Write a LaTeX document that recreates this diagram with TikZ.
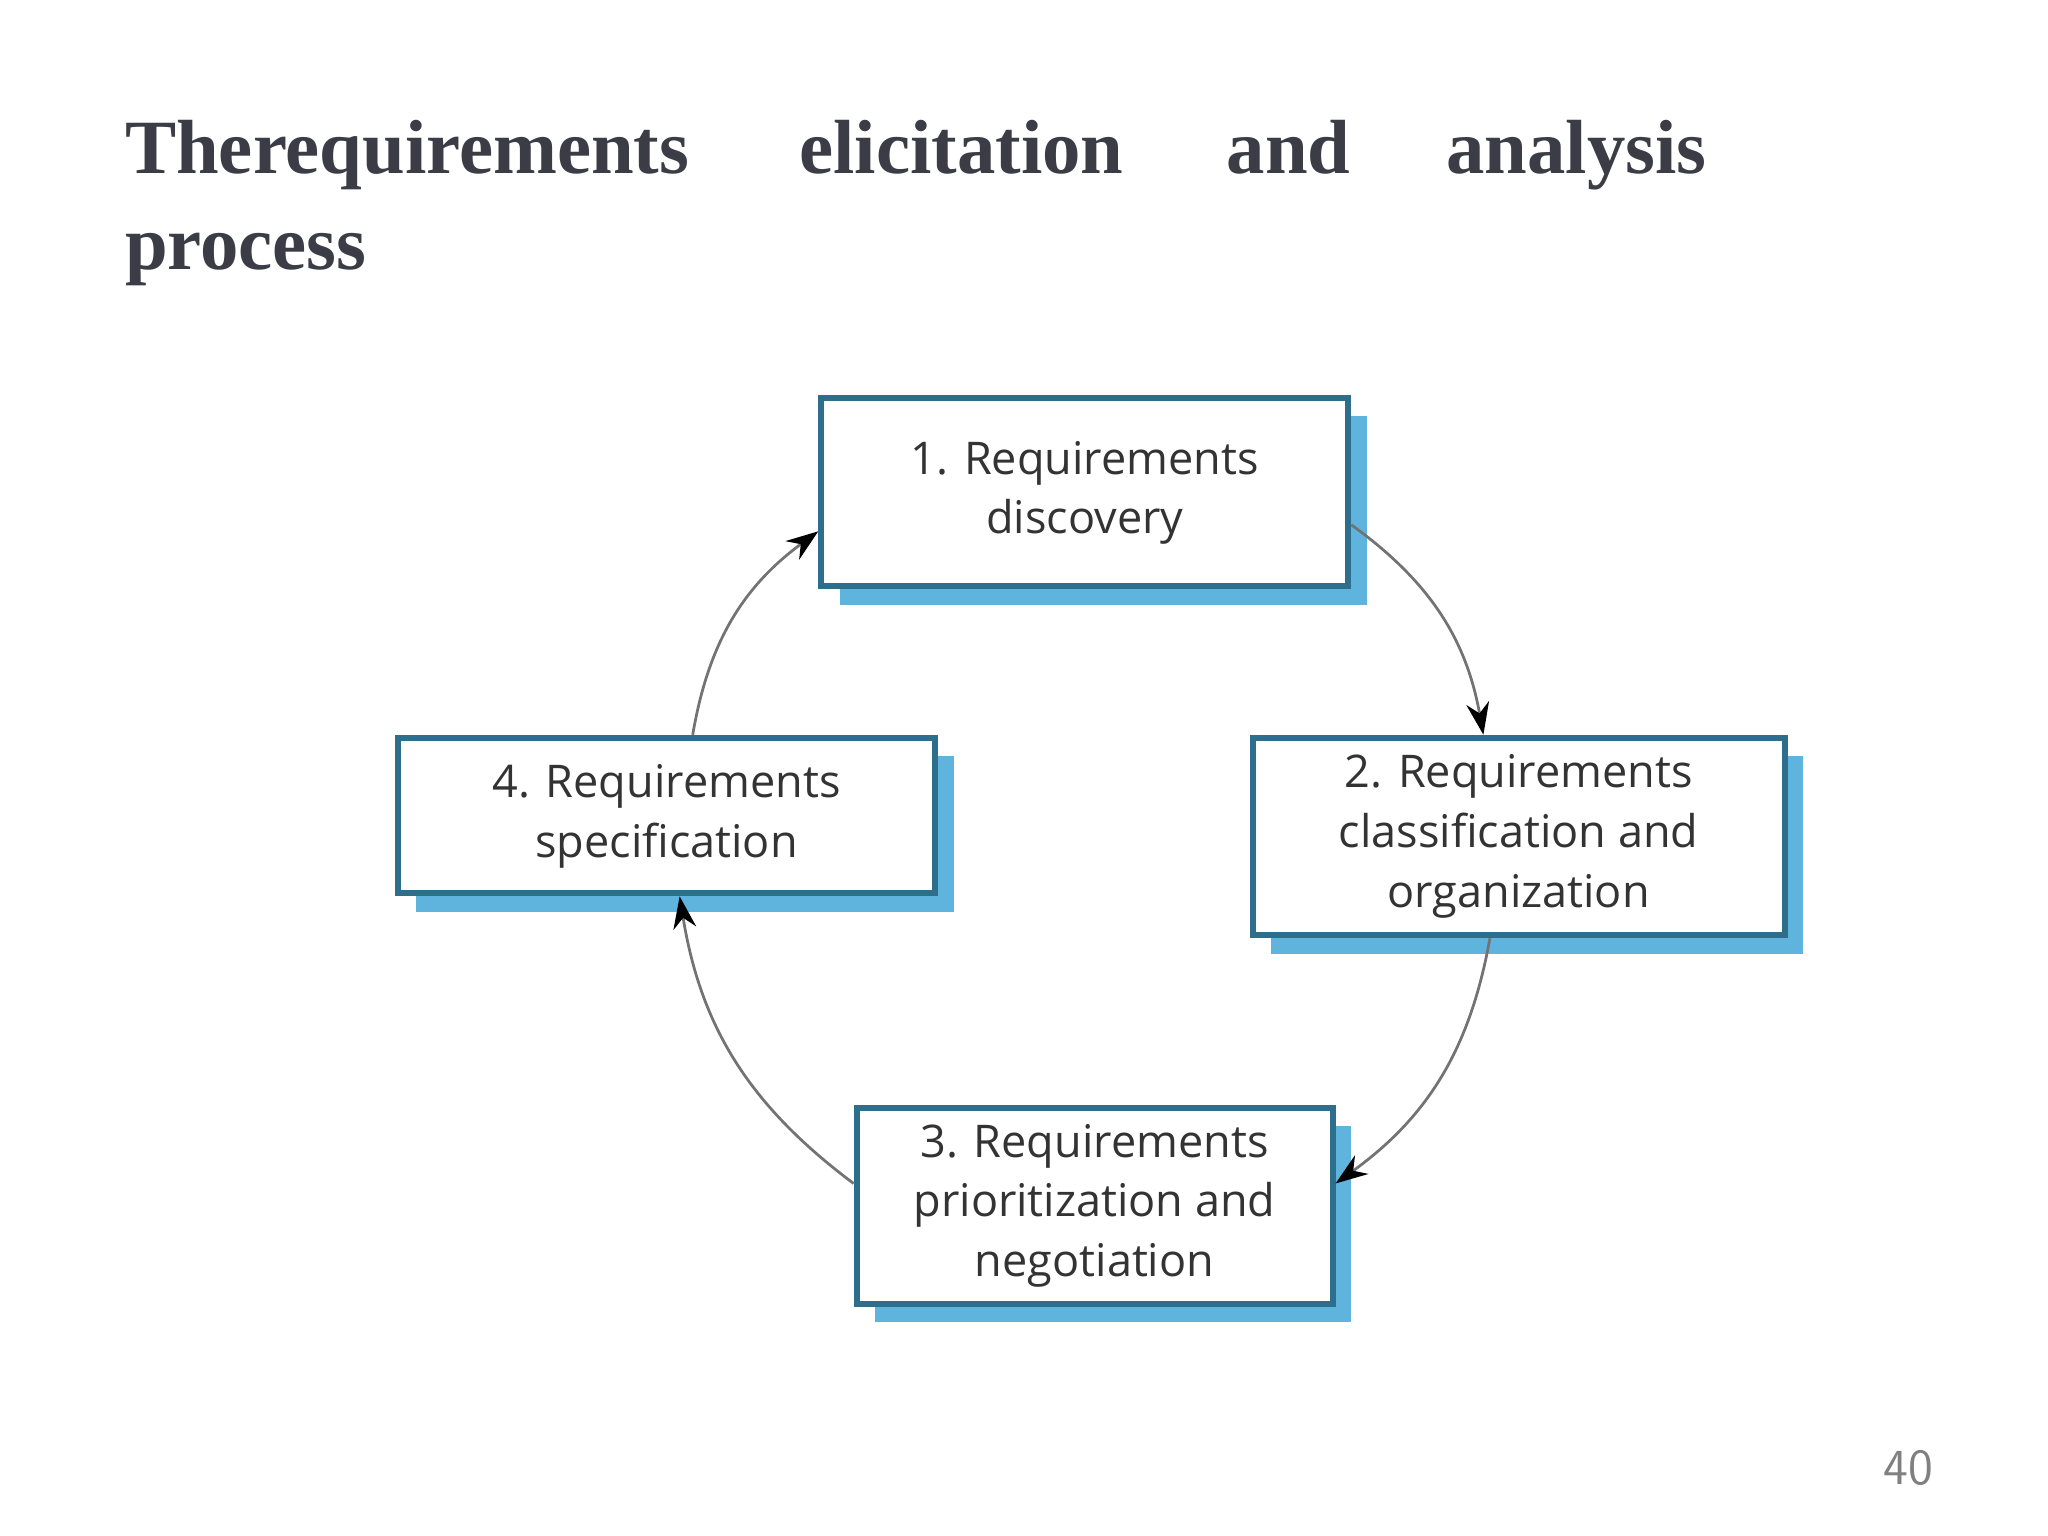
\documentclass[tikz,border=0pt]{standalone}
\usepackage{fontspec}
\setmainfont{Liberation Serif}
\newfontfamily\boxfont{Open Sans}
\usetikzlibrary{shadows,arrows.meta}
\definecolor{bord}{RGB}{45,110,140}
\definecolor{shad}{RGB}{95,180,222}
\definecolor{ttl}{RGB}{60,60,70}
\tikzset{
 stage/.style={draw=bord,line width=1.3pt,fill=white,rectangle,inner sep=0pt,align=center,
   font=\boxfont\fontsize{9.8}{13}\selectfont,text=black!80,
   copy shadow={shadow xshift=0.14cm,shadow yshift=-0.14cm,fill=shad,draw=none}},
 flow/.style={draw=black!55,line width=0.6pt,-{Stealth[length=7pt,width=5pt,black]}},
 ttlw/.style={anchor=base west,font=\bfseries\fontsize{16.7}{20}\selectfont,text=ttl,inner sep=0pt}
}
\begin{document}
\begin{tikzpicture}[x=0.01cm,y=-0.01cm]
\useasboundingbox (0,0) rectangle (1567,1175);
\node[ttlw] (t1) at (95,133) {Therequirements};
\node[ttlw] (t2) at (611,133) {elicitation};
\node[ttlw] (t3) at (938,133) {and};
\node[ttlw] (t4) at (1106,133) {analysis};
\node[ttlw] (t5) at (95,206) {process};
\node[stage,minimum width=4.03cm,minimum height=1.44cm] (b1) at (830,376.5) {\raisebox{6pt}{\begin{tabular}{c}1. Requirements\\discovery\end{tabular}}};
\node[stage,minimum width=4.07cm,minimum height=1.51cm] (b2) at (1162,640) {2. Requirements\\classification and\\organization};
\node[stage,minimum width=3.64cm,minimum height=1.50cm] (b3) at (837.5,922.5) {3. Requirements\\prioritization and\\negotiation};
\node[stage,minimum width=4.11cm,minimum height=1.19cm] (b4) at (510,624) {\raisebox{2pt}{\begin{tabular}{c}4. Requirements\\specification\end{tabular}}};
\draw[flow] ([yshift=-0.25cm]b1.east) to[bend left=22] ([xshift=-0.27cm]b2.north);
\draw[flow] ([xshift=-0.22cm]b2.south) to[bend left=22] ([yshift=0.17cm]b3.east);
\draw[flow] ([yshift=0.17cm]b3.west) to[bend left=22] ([xshift=0.1cm]b4.south);
\draw[flow] ([xshift=0.2cm]b4.north) to[bend left=22] ([yshift=-0.3cm]b1.west);
\node[font=\sffamily\fontsize{11}{13}\selectfont,text=black!50] (pg) at (1460,1123) {40};
\end{tikzpicture}
\end{document}
